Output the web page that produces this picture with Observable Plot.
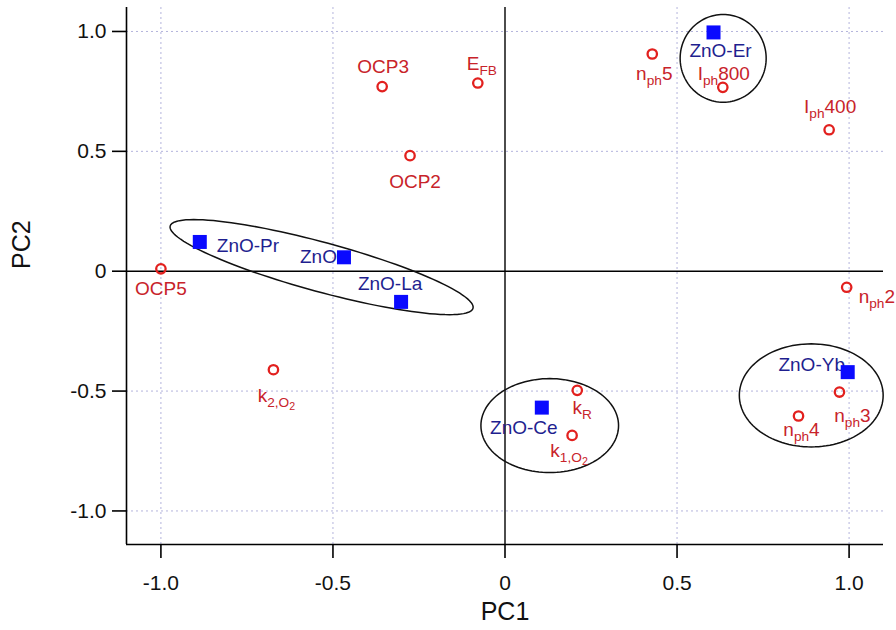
<!DOCTYPE html>
<html>
<head>
<meta charset="utf-8">
<script src="https://cdn.jsdelivr.net/npm/d3@7"></script>
<script src="https://cdn.jsdelivr.net/npm/@observablehq/plot@0.6"></script>
<style>
  html, body { margin: 0; padding: 0; background: #fff; }
  #chart { width: 896px; height: 630px; }
</style>
</head>
<body>
<div id="chart"></div>
<script>
// ---- data ----
const xDomain = [-1.1, 1.1];
const yDomain = [-1.14, 1.1];
const xTicks = [-1.0, -0.5, 0, 0.5, 1.0];
const xTickLabels = ["-1.0", "-0.5", "0", "0.5", "1.0"];
const yTicks = [-1.0, -0.5, 0, 0.5, 1.0];
const yTickLabels = ["-1.0", "-0.5", "0", "0.5", "1.0"];

// variables (loadings, red open circles)
const varNames = ["OCP5", "OCP3", "E_{FB}", "OCP2", "n_{ph}5", "I_{ph}800", "I_{ph}400", "n_{ph}2", "k_{2,O_{2}}", "k_{R}", "k_{1,O_{2}}", "n_{ph}3", "n_{ph}4"];
const varPC1 = [-1.0, -0.357, -0.079, -0.276, 0.428, 0.633, 0.942, 0.993, -0.673, 0.21, 0.195, 0.972, 0.853];
const varPC2 = [0.01, 0.77, 0.785, 0.482, 0.906, 0.767, 0.59, -0.067, -0.411, -0.497, -0.685, -0.504, -0.604];

// samples (scores, blue squares)
const sampleNames = ["ZnO-Pr", "ZnO", "ZnO-La", "ZnO-Er", "ZnO-Ce", "ZnO-Yb"];
const samplePC1 = [-0.887, -0.468, -0.302, 0.606, 0.107, 0.996];
const samplePC2 = [0.122, 0.058, -0.128, 0.996, -0.569, -0.421];

// group ellipses: centre, semi-axes (x units, y units), tilt in degrees
const ellipseNames = ["Pr-ZnO-La", "Er", "Ce", "Yb"];
const ellipseCX = [-0.533, 0.634, 0.13, 0.89];
const ellipseCY = [0.017, 0.888, -0.644, -0.518];
const ellipseRX = [0.456, 0.125, 0.2, 0.209];
const ellipseRY = [0.103, 0.183, 0.196, 0.215];
const ellipseTilt = [15.2, 0, 0, 0];

// ---- layout / style ----
const W = 896, H = 630;
const M = {left: 126, right: 13, top: 7, bottom: 86};
const FONT = "'Liberation Sans', Arial, Helvetica, sans-serif";
const RED = "#e2201e", RED_TEXT = "#c8232a", BLUE = "#0a0aff", BLUE_TEXT = "#1f1f8f";
const LABEL_FS = 19;

const varLabelOffset = {
  "OCP5": [0, 20, "middle"], "OCP3": [1, -20, "middle"], "E_{FB}": [4, -19, "middle"],
  "OCP2": [5, 26, "middle"], "n_{ph}5": [2, 20, "middle"], "I_{ph}800": [1, -13, "middle"],
  "I_{ph}400": [1, -23, "middle"], "n_{ph}2": [12, 10, "start"], "k_{2,O_{2}}": [3, 26, "middle"],
  "k_{R}": [5, 18, "middle"], "k_{1,O_{2}}": [-3, 15, "middle"], "n_{ph}3": [13, 24, "middle"],
  "n_{ph}4": [3, 14, "middle"]
};
const sampleLabelOffset = {
  "ZnO-Pr": [17, 4, "start"], "ZnO": [-7, 0, "end"], "ZnO-La": [-11, -18, "middle"],
  "ZnO-Er": [7, 18, "middle"], "ZnO-Ce": [-18, 20, "middle"], "ZnO-Yb": [-36, -7, "middle"]
};

const vars = varNames.map((n, i) => ({name: n, x: varPC1[i], y: varPC2[i]}));
const samples = sampleNames.map((n, i) => ({name: n, x: samplePC1[i], y: samplePC2[i]}));

// pixels per data unit
const kx = (W - M.left - M.right) / (xDomain[1] - xDomain[0]);
const ky = (H - M.top - M.bottom) / (yDomain[1] - yDomain[0]);
const ellipsePts = [];
ellipseNames.forEach((id, i) => {
  const a = ellipseRX[i] * kx, b = ellipseRY[i] * ky;
  const th = ellipseTilt[i] * Math.PI / 180;
  for (let k = 0; k < 120; k++) {
    const t = 2 * Math.PI * k / 120;
    const u = a * Math.cos(t), v = b * Math.sin(t);
    const px = u * Math.cos(th) - v * Math.sin(th);
    const py = u * Math.sin(th) + v * Math.cos(th); // screen (down positive)
    ellipsePts.push({id, x: ellipseCX[i] + px / kx, y: ellipseCY[i] - py / ky});
  }
});

const marks = [
  Plot.gridX(xTicks.filter(d => d !== 0), {stroke: "#b4b4dc", strokeOpacity: 1, strokeDasharray: "2,3", strokeWidth: 1}),
  Plot.gridY(yTicks.filter(d => d !== 0), {stroke: "#b4b4dc", strokeOpacity: 1, strokeDasharray: "2,3", strokeWidth: 1}),
  Plot.ruleX([0], {stroke: "#000", strokeWidth: 1.4}),
  Plot.ruleY([0], {stroke: "#000", strokeWidth: 1.4}),
  Plot.ruleX([xDomain[0]], {stroke: "#000", strokeWidth: 1.6}),
  Plot.ruleY([yDomain[0]], {stroke: "#000", strokeWidth: 1.6}),
  Plot.axisX(xTicks, {tickFormat: (d, i) => xTickLabels[i], tickSize: 14, tickPadding: 17, fontSize: 21, strokeWidth: 1.6, label: null, fill: "#111"}),
  Plot.axisY(yTicks, {tickFormat: (d, i) => yTickLabels[i], tickSize: 14, tickPadding: 6, fontSize: 21, strokeWidth: 1.6, label: null, fill: "#111"}),
  Plot.text(["PC1"], {frameAnchor: "bottom", dy: 67, fontSize: 25, fill: "#111", lineAnchor: "middle"}),
  Plot.text(["PC2"], {frameAnchor: "left", dx: -105, dy: -7, rotate: -90, fontSize: 25, fill: "#111", lineAnchor: "middle"}),
  Plot.line(ellipsePts, {x: "x", y: "y", z: "id", curve: "linear-closed", stroke: "#111", strokeWidth: 1.5}),
  ...vars.map(d => {
    const o = varLabelOffset[d.name];
    return Plot.text([d], {x: "x", y: "y", text: "name", dx: o[0], dy: o[1], textAnchor: o[2], lineAnchor: "middle", fontSize: LABEL_FS, fill: RED_TEXT});
  }),
  ...samples.map(d => {
    const o = sampleLabelOffset[d.name];
    return Plot.text([d], {x: "x", y: "y", text: "name", dx: o[0], dy: o[1], textAnchor: o[2], lineAnchor: "middle", fontSize: LABEL_FS, fill: BLUE_TEXT});
  }),
  Plot.dot(vars, {x: "x", y: "y", r: 4.7, stroke: RED, strokeWidth: 2.3, fill: "none"}),
  Plot.dot(samples, {x: "x", y: "y", r: 7.9, symbol: "square", fill: BLUE, stroke: "none"})
];

const chart = Plot.plot({
  width: W, height: H,
  marginLeft: M.left, marginRight: M.right, marginTop: M.top, marginBottom: M.bottom,
  x: {domain: xDomain},
  y: {domain: yDomain},
  style: {fontFamily: FONT, background: "#fff", overflow: "visible"},
  marks
});

// render "_{...}" as subscripts
function parseSub(s) {
  const out = []; let level = 0, buf = "";
  for (let i = 0; i < s.length; i++) {
    if (s[i] === "_" && s[i + 1] === "{") { if (buf) out.push({t: buf, l: level}); buf = ""; level++; i++; }
    else if (s[i] === "}") { if (buf) out.push({t: buf, l: level}); buf = ""; level--; }
    else buf += s[i];
  }
  if (buf) out.push({t: buf, l: level});
  return out;
}
const NS = "http://www.w3.org/2000/svg";
chart.querySelectorAll("text").forEach(el => {
  const s = el.textContent;
  if (!s.includes("_{")) return;
  const sizes = [LABEL_FS, LABEL_FS * 0.72, LABEL_FS * 0.56];
  const offs = [0, 5, 8.5];
  let prev = 0;
  el.textContent = "";
  parseSub(s).forEach(seg => {
    const ts = document.createElementNS(NS, "tspan");
    ts.setAttribute("font-size", sizes[seg.l]);
    const dy = offs[seg.l] - offs[prev];
    if (dy) ts.setAttribute("dy", dy);
    ts.textContent = seg.t;
    el.appendChild(ts);
    prev = seg.l;
  });
});

document.getElementById("chart").appendChild(chart);
</script>
</body>
</html>
